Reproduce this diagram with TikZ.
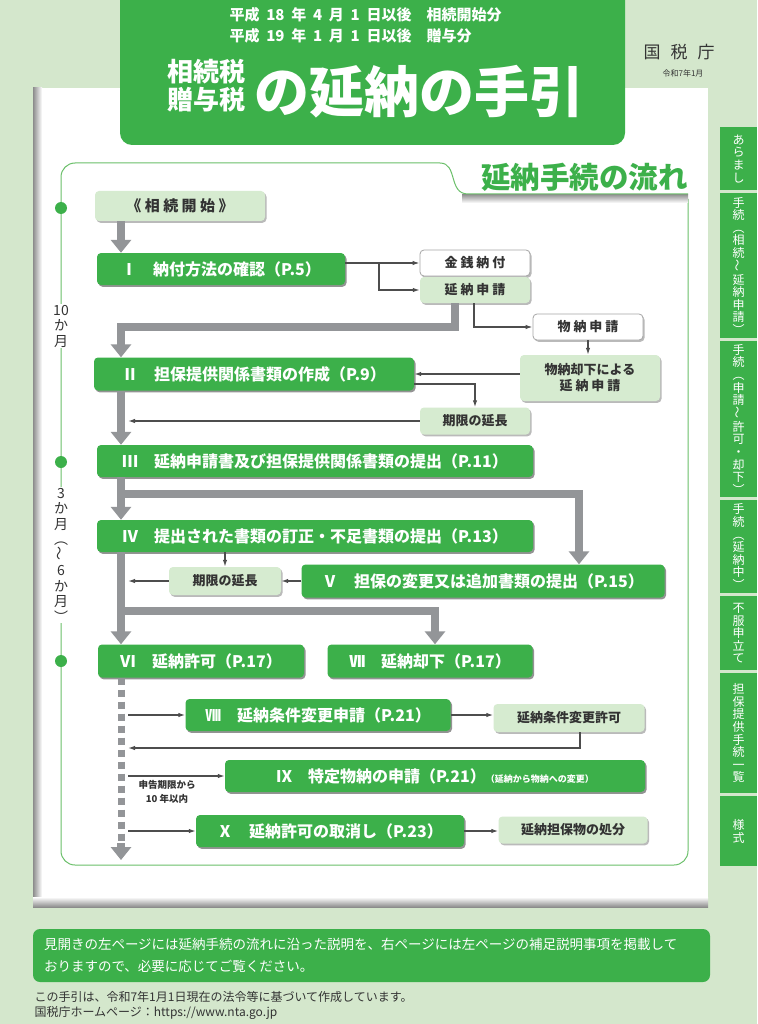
\documentclass[tikz,border=0pt]{standalone}
\usepackage{fontspec}
\usepackage{graphicx}
\setmainfont{Noto Sans CJK JP}
\usetikzlibrary{arrows.meta,shadows}
\definecolor{bgreen}{HTML}{D4E7CC}
\definecolor{dgreen}{HTML}{3CB04A}
\definecolor{lgreen}{HTML}{D6EBD0}
\definecolor{fgreen}{HTML}{6ABF69}
\definecolor{agray}{HTML}{939598}
\definecolor{lgray}{HTML}{4D4D4D}
\definecolor{tgray}{HTML}{333333}
\newcommand{\fsz}[1]{\fontsize{#1}{#1}\selectfont}
\newcommand{\wsp}{\spaceskip=.45em plus .1em\relax}
\newcommand{\vwave}{\rotatebox{90}{～}}

\begin{document}
\begin{tikzpicture}[x=1pt,y=-1pt]
\tikzset{dkbox/.style={fill=dgreen, rounded corners=4pt, text=white, font=\bfseries\fsz{16}, inner sep=0pt,
    drop shadow={shadow xshift=1.5pt, shadow yshift=-1.8pt, fill=black!60, opacity=.7}},
  ltbox/.style={fill=lgreen, rounded corners=4pt, text=tgray, font=\bfseries\fsz{13}, inner sep=0pt, align=center,
    drop shadow={shadow xshift=1.5pt, shadow yshift=-1.8pt, fill=black!45, opacity=.6}},
  whbox/.style={ltbox, fill=white, draw=black!35, line width=.8pt},
  garrow/.style={draw=agray, line width=8pt, -{Triangle[width=20pt,length=13pt]}},
  gdash/.style={draw=agray, line width=7pt, dash pattern=on 7pt off 5pt},
  tarrow/.style={draw=lgray, line width=1.3pt, -{Latex[length=7pt,width=4.5pt]}},
  sidetab/.style={anchor=north, fill=dgreen, text=white, font=\fontsize{12}{12.6}\selectfont, align=center,
    minimum width=37pt, inner sep=0pt},
  tline/.style={fill=white, inner sep=1pt, align=center, text=tgray, font=\fontsize{14}{15.5}\selectfont}}
\useasboundingbox (0,0) rectangle (757,1024);
\fill[bgreen] (0,0) rectangle (757,1024);
\fill[white] (33,88) rectangle (708,905);
\shade[left color=black!45, right color=white] (33,88) rectangle (42,905);
\shade[top color=white, bottom color=black!45] (33,897) rectangle (708,907);
\fill[dgreen, rounded corners=12pt] (120,-20) rectangle (625,145);
\node[anchor=west, text=white, font=\bfseries\fsz{15}\wsp] (h1) at (226,15) {平成 18 年 4 月 1 日以後　相続開始分};
\node[anchor=west, text=white, font=\bfseries\fsz{15}\wsp] (h2) at (226,36) {平成 19 年 1 月 1 日以後　贈与分};
\node[text=white, font=\bfseries\fontsize{26}{28}\selectfont, align=center, inner sep=0pt] (h3) at (206,86) {相続税\\贈与税};
\node[text=white, font=\bfseries\fsz{55}, inner sep=0pt] (h4) at (419,92) {の延納の手引};
\node[text=tgray, font=\fsz{17}] (kokuzei) at (679,52) {国\hspace{10pt}税\hspace{10pt}庁};
\node[text=tgray, font=\fsz{8}] (date) at (683,73) {令和7年1月};

\node[sidetab, minimum height=63pt] (t1) at (738.5,127) {あ\\ら\\ま\\し};
\node[sidetab, minimum height=145pt] (t2) at (738.5,193) {手\\続\\︵\\相\\続\\\vwave\\延\\納\\申\\請\\︶};
\node[sidetab, minimum height=156pt] (t3) at (738.5,341) {手\\続\\︵\\申\\請\\\vwave\\許\\可\\・\\却\\下\\︶};
\node[sidetab, minimum height=93pt] (t4) at (738.5,500) {手\\続\\︵\\延\\納\\中\\︶};
\node[sidetab, minimum height=74pt] (t5) at (738.5,596) {不\\服\\申\\立\\て};
\node[sidetab, minimum height=120pt] (t6) at (738.5,673) {担\\保\\提\\供\\手\\続\\一\\覧};
\node[sidetab, minimum height=70pt] (t7) at (738.5,796) {様\\式};

\draw[fgreen, line width=1pt, rounded corners=14pt] (440,163) -- (61,163) -- (61,865) -- (688,865) -- (688,199);
\shade[top color=black!40, bottom color=white] (462,195) rectangle (688,203);
\draw[fgreen, line width=1pt] (440,163) .. controls (458,163) and (448,194) .. (468,194) -- (688,194);
\node[anchor=east, text=dgreen, font=\bfseries\fsz{29.5}, inner sep=0pt] (ttl) at (688,177) {延納手続の流れ};
\fill[dgreen] (61,208) circle (6pt);
\fill[dgreen] (61,462) circle (6pt);
\fill[dgreen] (61,661) circle (6pt);
\node[tline] (m10) at (61,326) {10\\か\\月};
\node[tline] (m3) at (61,555) {3\\か\\月\\︵\\\vwave\\6\\か\\月\\︶};

\node[ltbox, minimum width=170pt, minimum height=30pt, font=\bfseries\fsz{15}] (start) at (180,206) {《 相 続 開 始 》};
\node[dkbox, minimum width=248pt, minimum height=32pt] (n1) at (221,269) {Ⅰ　納付方法の確認（P.5）};
\node[whbox, minimum width=110pt, minimum height=26pt] (kinsen) at (475,263) {金 銭 納 付};
\node[ltbox, minimum width=110pt, minimum height=26pt] (ennou) at (475,290) {延 納 申 請};
\node[whbox, minimum width=110pt, minimum height=26pt] (butsu) at (588,327) {物 納 申 請};
\node[ltbox, minimum width=140pt, minimum height=46pt] (kyakka) at (590,378) {物納却下による\\[3pt]延 納 申 請};
\node[dkbox, minimum width=320pt, minimum height=33pt] (n2) at (254,374) {Ⅱ　担保提供関係書類の作成（P.9）};
\node[ltbox, minimum width=110pt, minimum height=27pt] (kigen1) at (475,421) {期限の延長};
\node[dkbox, minimum width=436pt, minimum height=32pt] (n3) at (315,461) {Ⅲ　延納申請書及び担保提供関係書類の提出（P.11）};
\node[dkbox, minimum width=436pt, minimum height=32pt] (n4) at (315,536) {Ⅳ　提出された書類の訂正・不足書類の提出（P.13）};
\node[ltbox, minimum width=112pt, minimum height=28pt] (kigen2) at (225,581) {期限の延長};
\node[dkbox, minimum width=363pt, minimum height=33pt] (n5) at (483,581) {Ⅴ　担保の変更又は追加書類の提出（P.15）};
\node[dkbox, minimum width=206pt, minimum height=33pt] (n6) at (201,661) {Ⅵ　延納許可（P.17）};
\node[dkbox, minimum width=205pt, minimum height=33pt] (n7) at (430,661) {Ⅶ　延納却下（P.17）};
\node[dkbox, minimum width=265pt, minimum height=32pt] (n8) at (318,715) {Ⅷ　延納条件変更申請（P.21）};
\node[ltbox, minimum width=151pt, minimum height=28pt] (kyoka) at (569,718) {延納条件変更許可};
\node[dkbox, minimum width=420pt, minimum height=32pt] (n9) at (435,776) {Ⅸ　特定物納の申請（P.21）{\fsz{9}（延納から物納への変更）}};
\node[dkbox, minimum width=268pt, minimum height=32pt] (n10) at (330,831) {Ⅹ　延納許可の取消し（P.23）};
\node[ltbox, minimum width=149pt, minimum height=27pt] (shobun) at (573,830) {延納担保物の処分};
\node[font=\bfseries\fontsize{9.5}{14}\selectfont, align=center, text=tgray] (nen) at (167,792) {申告期限から\\10 年以内};

\coordinate (ax) at (121,0);
\coordinate (ax2) at (128,0);
\coordinate (b1) at (379,0);
\coordinate (g1) at (455,0);
\coordinate (t1x) at (474,0);
\coordinate (g3) at (579,0);
\coordinate (g4) at (435,0);
\coordinate (t3x) at (580,0);
\coordinate (r1) at (0,327);
\coordinate (r2) at (0,384);
\coordinate (r3) at (0,494);
\coordinate (r4) at (0,611);
\coordinate (r5) at (0,748);
\coordinate (r9) at (0,843);
\coordinate (r10) at (0,860);
\draw[garrow] (start.south -| ax) -- (n1.north -| ax);
\draw[tarrow] (n1.east |- kinsen.west) -- (kinsen.west);
\draw[tarrow] (b1 |- kinsen.west) |- (ennou.west);
\draw[garrow] (ennou.south -| g1) |- (ax |- r1) -- (n2.north -| ax);
\draw[tarrow] (ennou.south -| t1x) |- (butsu.west);
\draw[tarrow] (butsu.south) -- (butsu.south |- kyakka.north);
\draw[tarrow] (kyakka.west |- n2.east) -- (n2.east);
\draw[tarrow] (n2.east |- r2) -| (kigen1.north);
\draw[tarrow] (kigen1.west) -- (kigen1.west -| ax2);
\draw[garrow] (n2.south -| ax) -- (n3.north -| ax);
\draw[garrow] (n3.south -| ax) -- (n4.north -| ax);
\draw[garrow] (ax |- r3) -| (n5.north -| g3);
\draw[tarrow] (n4.south -| kigen2.north) -- (kigen2.north);
\draw[tarrow] (n5.west) -- (kigen2.east);
\draw[tarrow] (kigen2.west) -- (kigen2.west -| ax2);
\draw[garrow] (n4.south -| ax) -- (n6.north -| ax);
\draw[garrow] (ax |- r4) -| (n7.north -| g4);
\draw[gdash] (n6.south -| ax) -- (ax |- r9);
\draw[garrow] (ax |- r9) -- (ax |- r10);
\draw[tarrow] (n8.west -| ax2) -- (n8.west);
\draw[tarrow] (n8.east) -- (n8.east -| kyoka.west);
\draw[tarrow] (kyoka.south -| t3x) |- (ax2 |- r5);
\draw[tarrow] (n9.west -| ax2) -- (n9.west);
\draw[tarrow] (n10.west -| ax2) -- (n10.west);
\draw[tarrow] (n10.east) -- (n10.east -| shobun.west);

\node[fill=dgreen, rounded corners=7pt, minimum width=677pt, minimum height=53pt, text width=655pt, align=left,
  text=white, font=\fontsize{13.5}{22}\selectfont] (note) at (371.5,955.5)
  {見開きの左ページには延納手続の流れに沿った説明を、右ページには左ページの補足説明事項を掲載して\\おりますので、必要に応じてご覧ください。};
\node[anchor=west, text=tgray, font=\fsz{12}] (f1) at (31,997) {この手引は、令和7年1月1日現在の法令等に基づいて作成しています。};
\node[anchor=west, text=tgray, font=\fsz{12}] (f2) at (31,1013) {国税庁ホームページ：https://www.nta.go.jp};
\end{tikzpicture}
\end{document}
